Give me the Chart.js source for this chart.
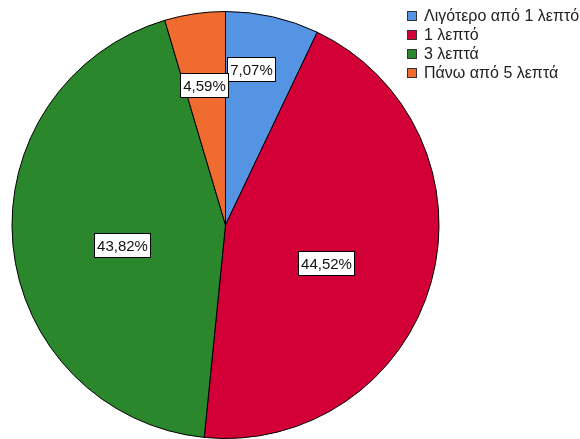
<!DOCTYPE html>
<html>
<head>
<meta charset="utf-8">
<script src="https://cdn.jsdelivr.net/npm/chart.js@4/dist/chart.umd.min.js"></script>
<style>
  html, body { margin: 0; padding: 0; background: #fff; }
  #wrap { width: 580px; height: 439px; }
</style>
</head>
<body>
<div id="wrap"><canvas id="pie"></canvas></div>
<script>
const categories = ['Λιγότερο από 1 λεπτό', '1 λεπτό', '3 λεπτά', 'Πάνω από 5 λεπτά'];
const percentages = [7.07, 44.52, 43.82, 4.59];
const sliceColors = ['#5494e2', '#d30038', '#2b872b', '#f06b2f'];

const FONT = '"Liberation Sans", Arial, sans-serif';

function formatPct(v) {
    return v.toFixed(2).replace('.', ',') + '%';
}

// white boxed percentage labels placed along each slice's middle angle,
// with a small per-label nudge so the small slices' boxes sit apart
const sliceLabels = {
    id: 'sliceLabels',
    afterDatasetsDraw(chart, args, opts) {
        const ctx = chart.ctx;
        const meta = chart.getDatasetMeta(0);
        ctx.save();
        ctx.font = '15px ' + FONT;
        ctx.textAlign = 'center';
        ctx.textBaseline = 'middle';
        meta.data.forEach((arc, i) => {
            const p = arc.getProps(['x', 'y', 'startAngle', 'endAngle', 'outerRadius'], true);
            const value = chart.data.datasets[0].data[i];
            const mid = (p.startAngle + p.endAngle) / 2;
            const frac = value < 10 ? 0.7 : 0.5;
            const nudge = opts.nudge[i] || [0, 0];
            const cx = p.x + Math.cos(mid) * p.outerRadius * frac + nudge[0];
            const cy = p.y + Math.sin(mid) * p.outerRadius * frac + nudge[1];
            const text = formatPct(value);
            const w = Math.round(ctx.measureText(text).width) + 5;
            const h = 24;
            const bx = Math.round(cx - w / 2) + 0.5;
            const by = Math.round(cy - h / 2) + 0.5;
            ctx.fillStyle = '#fff';
            ctx.fillRect(bx, by, w, h);
            ctx.strokeStyle = '#000';
            ctx.lineWidth = 1;
            ctx.strokeRect(bx, by, w, h);
            ctx.fillStyle = '#111';
            ctx.fillText(text, bx + w / 2, by + h / 2 + 1);
        });
        ctx.restore();
    }
};

// legend in the top right corner
const cornerLegend = {
    id: 'cornerLegend',
    afterDraw(chart) {
        const ctx = chart.ctx;
        const colors = chart.data.datasets[0].backgroundColor;
        ctx.save();
        ctx.font = '16px ' + FONT;
        ctx.textBaseline = 'middle';
        chart.data.labels.forEach((label, i) => {
            const y = 16 + i * 19;
            ctx.fillStyle = colors[i];
            ctx.fillRect(407, y - 5, 10, 10);
            ctx.strokeStyle = '#333';
            ctx.lineWidth = 1;
            ctx.strokeRect(407.5, y - 4.5, 9, 9);
            ctx.fillStyle = '#222';
            ctx.fillText(label, 424, y + 1);
        });
        ctx.restore();
    }
};

new Chart(document.getElementById('pie'), {
    type: 'pie',
    data: {
        labels: categories,
        datasets: [{
            data: percentages,
            backgroundColor: sliceColors,
            borderColor: '#000',
            borderWidth: 1
        }]
    },
    options: {
        responsive: true,
        maintainAspectRatio: false,
        animation: false,
        layout: { padding: { left: 11, top: 11, right: 140, bottom: 0 } },
        plugins: {
            legend: { display: false },
            tooltip: { enabled: false },
            sliceLabels: { nudge: [[-7, -10], [-2, 9], [3, 10], [0, 8]] }
        }
    },
    plugins: [sliceLabels, cornerLegend]
});
</script>
</body>
</html>
